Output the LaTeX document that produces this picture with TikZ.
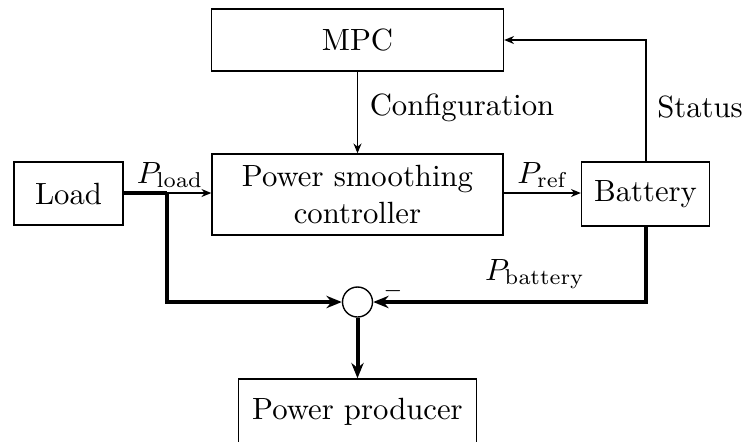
\documentclass[tikz,border=0pt]{standalone}
\usetikzlibrary{arrows.meta}
\begin{document}
\begin{tikzpicture}[x=0.3256pt,y=-0.3256pt,
  blk/.style 2 args={draw, line width=0.45pt, minimum width=#1*0.3256pt, minimum height=#2*0.3256pt, inner sep=0pt, align=center},
  thin/.style={line width=0.45pt, -{Stealth[length=3.2pt,width=2.6pt]}},
  thick/.style={line width=1.3pt},
  thickarr/.style={line width=1.3pt, -{Stealth[length=5pt,width=4pt]}},
  lbl/.style={inner sep=0pt}]
\useasboundingbox (0,0) rectangle (747,441);
\clip (0,0) rectangle (747,441);
\node[blk={292}{62}] (mpc) at (357.5,40) {MPC};
\node[blk={291}{81}] (psc) at (357.5,194.5) {Power smoothing\\controller};
\node[blk={109}{63}] (load) at (68.5,193.5) {Load};
\node[blk={128}{64}] (bat) at (645.5,194) {Battery};
\node[circle, draw, line width=0.45pt, minimum size=30*0.3256pt, inner sep=0pt] (sum) at (357.5,302) {};
\node[blk={238}{66}] (prod) at (357.5,412) {Power producer};
\coordinate (split) at (167,193);
\coordinate (stat) at (646,40);
% connectors
\draw[thin] (mpc) -- (psc);
\draw[thin] (psc.east |- 0,193) -- (bat.west |- 0,193);
\draw[thin] (bat.north -| stat) -- (stat) -- (mpc.east |- stat);
\draw[thick] (load.east |- split) -- (split);
\draw[thin] (split) -- (psc.west |- split);
\draw[thickarr] (split) -- (split |- sum) -- (sum.west);
\draw[thickarr] (bat.south -| stat) -- (stat |- sum) -- (sum.east);
\draw[thickarr] (sum) -- (prod);
% labels
\node[lbl] (lconf) at (462,108) {Configuration};
\node[lbl] (lstat) at (700,107) {Status};
\node[lbl] (lload) at (170,175) {$P_{\mathrm{load}}$};
\node[lbl] (lref) at (543,175) {$P_{\mathrm{ref}}$};
\node[lbl] (lbat) at (535,274) {$P_{\mathrm{battery}}$};
\node[lbl, font=\scriptsize] (lminus) at (393,291) {$-$};
\end{tikzpicture}
\end{document}
